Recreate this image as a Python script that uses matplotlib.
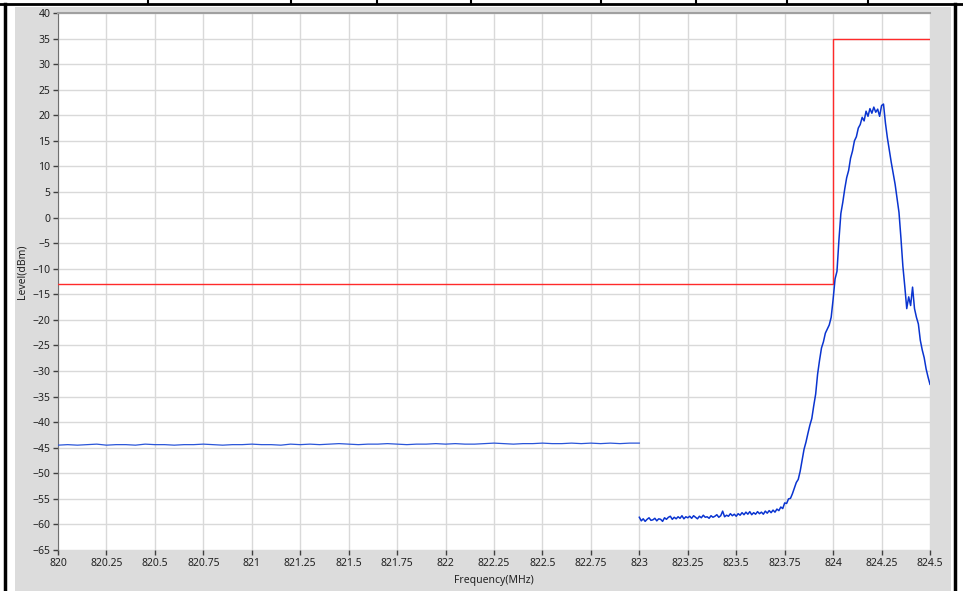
import numpy as np
import matplotlib
matplotlib.use('Agg')
from matplotlib import pyplot as plt
from matplotlib.patches import Rectangle
from matplotlib.lines import Line2D

plt.rcParams['font.family'] = ['Noto Sans', 'DejaVu Sans']

# limit mask (red)
mask_freq = [820.0, 824.0, 824.0, 824.5]
mask_level = [-13.0, -13.0, 35.0, 35.0]

# trace part 1: 820 - 823 MHz, step 0.05
trace1_start, trace1_step = 820.0, 0.05
trace1_level = [
    -44.5, -44.4, -44.5, -44.4, -44.3, -44.5, -44.4, -44.4, -44.5, -44.3,
    -44.4, -44.4, -44.5, -44.4, -44.4, -44.3, -44.4, -44.5, -44.4, -44.4,
    -44.3, -44.4, -44.4, -44.5, -44.3, -44.4, -44.3, -44.4, -44.3, -44.2,
    -44.3, -44.4, -44.3, -44.3, -44.2, -44.3, -44.4, -44.3, -44.3, -44.2,
    -44.3, -44.2, -44.3, -44.3, -44.2, -44.1, -44.2, -44.3, -44.2, -44.2,
    -44.1, -44.2, -44.2, -44.1, -44.2, -44.1, -44.2, -44.1, -44.2, -44.1,
    -44.1,
]

# trace part 2: 823 - 824.5 MHz, step 0.01
trace2_start, trace2_step = 823.0, 0.01
trace2_level = [
    -58.6, -59.3, -58.9, -59.4, -59.0, -58.7, -59.2, -59.1, -58.8, -59.3,
    -58.9, -59.0, -59.4, -58.7, -59.0, -58.6, -58.4, -59.0, -58.6, -58.9,
    -58.5, -58.8, -58.3, -58.9, -58.5, -58.7, -58.4, -58.8, -58.3, -58.6,
    -58.9, -58.4, -58.7, -58.2, -58.6, -58.5, -58.8, -58.3, -58.6, -58.4,
    -58.1, -58.6, -58.3, -57.4, -58.5, -58.2, -58.4, -57.9, -58.3, -58.0,
    -58.4, -57.9, -58.2, -57.7, -58.1, -57.6, -58.0, -57.5, -58.1, -57.7,
    -58.0, -57.5, -57.9, -57.6, -58.0, -57.4, -57.8, -57.3, -57.7, -57.2,
    -57.6, -57.0, -57.3, -56.6, -56.9, -55.8, -55.9, -55.0, -54.9, -54.0,
    -52.9, -51.8, -51.2, -49.6, -47.5, -45.3, -43.9, -42.2, -40.6, -39.3,
    -36.8, -34.5, -30.6, -27.9, -25.5, -24.3, -22.6, -21.8, -21.0, -19.5,
    -16.0, -12.0, -10.5, -4.4, 0.8, 3.0, 5.6, 7.8, 9.2, 11.6,
    13.0, 15.0, 15.8, 17.5, 18.2, 19.6, 18.9, 20.8, 19.8, 21.3,
    20.4, 21.6, 20.6, 21.2, 19.8, 21.9, 22.2, 18.5, 15.6, 13.2,
    10.8, 8.6, 6.5, 3.8, 1.0, -4.0, -9.5, -13.5, -17.8, -15.5,
    -17.2, -13.6, -17.8, -19.5, -20.8, -24.0, -25.9, -27.4, -29.6, -31.2,
    -32.6,
]

x_ticks = [820, 820.25, 820.5, 820.75, 821, 821.25, 821.5, 821.75, 822,
           822.25, 822.5, 822.75, 823, 823.25, 823.5, 823.75, 824, 824.25, 824.5]
x_labels = ['820', '820.25', '820.5', '820.75', '821', '821.25', '821.5', '821.75', '822',
            '822.25', '822.5', '822.75', '823', '823.25', '823.5', '823.75', '824', '824.25', '824.5']
y_ticks = list(range(-65, 41, 5))

trace1_freq = trace1_start + trace1_step * np.arange(len(trace1_level))
trace2_freq = trace2_start + trace2_step * np.arange(len(trace2_level))

W, H = 963, 591
fig = plt.figure(figsize=(W / 100, H / 100), dpi=100)
fig.patch.set_facecolor('white')

# grey panel and black frame of the surrounding table
fig.patches.append(Rectangle((15 / W, 0), (951 - 15) / W, 1 - 7 / H,
                             transform=fig.transFigure, facecolor='#dcdcdc',
                             edgecolor='none', zorder=-10))
fig.lines.append(Line2D([0, 1], [1 - 4 / H, 1 - 4 / H], transform=fig.transFigure,
                        color='black', lw=2.0))
fig.lines.append(Line2D([4.5 / W, 4.5 / W], [0, 1 - 4 / H], transform=fig.transFigure,
                        color='black', lw=2.5))
fig.lines.append(Line2D([955 / W, 955 / W], [0, 1 - 4 / H], transform=fig.transFigure,
                        color='black', lw=2.5))
for xs in [148, 291, 377, 471, 601, 696, 787, 868]:
    fig.lines.append(Line2D([xs / W, xs / W], [1 - 4 / H, 1], transform=fig.transFigure,
                            color='black', lw=1.5))

ax = fig.add_axes([58 / W, 1 - 550 / H, (930 - 58) / W, (550 - 13) / H])
ax.set_zorder(5)
ax.set_facecolor('white')

ax.plot(mask_freq, mask_level, color='#ff2a2a', lw=1.0, zorder=3)
ax.plot(trace1_freq, trace1_level, color='#2a55d8', lw=0.9, zorder=4)
ax.plot(trace2_freq, trace2_level, color='#0a34d0', lw=1.1, zorder=4)

ax.set_xlim(820, 824.5)
ax.set_ylim(-65, 40)
ax.set_xticks(x_ticks)
ax.set_xticklabels(x_labels)
ax.set_yticks(y_ticks)
ax.grid(True, color='#d9d9d9', lw=1.0)
ax.set_axisbelow(True)

for s in ['right', 'bottom']:
    ax.spines[s].set_visible(False)
ax.spines['left'].set_color('#707070')
ax.spines['top'].set_color('#a0a0a0')
ax.spines['top'].set_linewidth(1.5)

ax.tick_params(direction='out', length=3.5, width=1, color='#404040',
               labelsize=7.5, labelcolor='#222222', pad=2)

fig.text(494 / W, 1 - 581 / H, 'Frequency(MHz)', ha='center', va='center',
         fontsize=7.5, color='#222222')
fig.text(22 / W, 1 - 272 / H, 'Level(dBm)', ha='center', va='center',
         rotation=90, fontsize=7.5, color='#222222')

plt.savefig('out.png', dpi=100, facecolor=fig.get_facecolor())
